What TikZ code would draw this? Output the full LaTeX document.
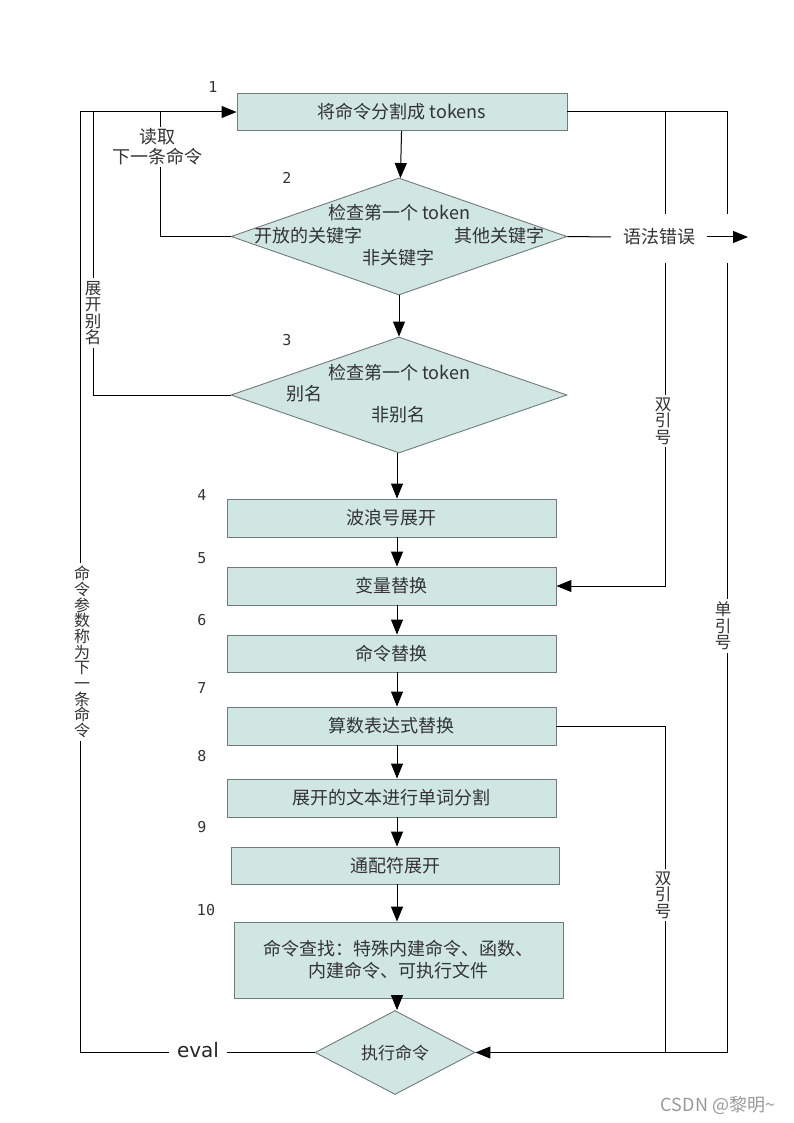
\documentclass[tikz,border=0pt]{standalone}
\usepackage{fontspec}
\setmainfont{Noto Sans CJK SC}
\newfontfamily\numfont{DejaVu Sans Mono}
\newfontfamily\evalfont{DejaVu Sans}
\usetikzlibrary{shapes.geometric,arrows.meta}

\definecolor{boxfill}{HTML}{CFE6E2}
\definecolor{boxline}{HTML}{6F7C79}
\definecolor{txt}{HTML}{333333}

\tikzset{
  stage/.style={draw=boxline, fill=boxfill, line width=0.9pt, minimum width=329pt,
    minimum height=38pt, inner sep=0pt, text=txt, align=center,
    font=\fontsize{18}{22}\selectfont},
  check/.style={diamond, draw=boxline, fill=boxfill, line width=0.9pt, inner sep=0pt},
  intext/.style={text=txt, inner sep=0pt, font=\fontsize{18}{22}\selectfont},
  num/.style={text=black!80, inner sep=0pt, font=\numfont\fontsize{15}{15}\selectfont},
  tag/.style={fill=white, text=txt, align=center, inner sep=2pt,
    font=\fontsize{18}{20}\selectfont},
  vtag/.style={fill=white, text=txt, align=center, inner xsep=1pt, inner ysep=3pt,
    font=\fontsize{16.5}{16.5}\selectfont},
  flow/.style={line width=1pt, black},
  arr/.style={flow, -{Triangle[length=15pt,width=12pt]}},
}

\begin{document}
\begin{tikzpicture}[x=1pt, y=-1pt]
\useasboundingbox (0,0) rectangle (794,1123);

% columns of the return lines
\coordinate (outx)   at (80,0);
\coordinate (aliasx) at (93,0);
\coordinate (readx)  at (160,0);
\coordinate (dqx)    at (665,0);
\coordinate (sqx)    at (727,0);
\coordinate (spine)  at (397,0);

% main chain
\node[stage, minimum width=330pt, minimum height=37pt] (split) at (402,112) {将命令分割成 tokens};
\node[check, minimum width=336pt, minimum height=117pt] (chk1) at (399,236.5) {};
\node[check, minimum width=336pt, minimum height=116pt] (alias) at (399,395) {};
\node[stage] (tilde)  at (391.5,518)   {波浪号展开};
\node[stage] (var)    at (391.5,586)   {变量替换};
\node[stage, minimum height=37pt] (cmdsub) at (391.5,653.5) {命令替换};
\node[stage] (arith)  at (391.5,726)   {算数表达式替换};
\node[stage] (wsplit) at (391.5,798)   {展开的文本进行单词分割};
\node[stage, minimum width=328pt, minimum height=37pt] (glob) at (395,865.5) {通配符展开};
\node[stage, minimum height=76pt] (lookup) at (398.5,960)
  {命令查找：特殊内建命令、函数、\\内建命令、可执行文件};
\node[check, minimum width=160pt, minimum height=49pt, text=txt,
  font=\fontsize{17}{17}\selectfont] (exec) at (395,1052.5) {执行命令};

% texts inside the two checks
\node[intext] (chk1q)  at (399,213) {检查第一个 token};
\node[intext] (chk1a)  at (308,236) {开放的关键字};
\node[intext] (chk1b)  at (499,236) {其他关键字};
\node[intext] (chk1c)  at (398,258) {非关键字};
\node[intext] (aliasq) at (399,373) {检查第一个 token};
\node[intext] (aliasa) at (304,394) {别名};
\node[intext] (aliasb) at (398,415) {非别名};

% step numbers
\foreach \n/\px/\py in {1/213/87, 2/287/178, 3/287/340, 4/202/495, 5/202/558,
                        6/202/620, 7/202/688, 8/202/756, 9/202/827, 10/206/910}
  \node[num] (n\n) at (\px,\py) {\n};

% downward arrows
\draw[arr] (split) -- (chk1);
\draw[arr] (chk1) -- (alias);
\foreach \a/\b in {alias/tilde, tilde/var, var/cmdsub, cmdsub/arith,
                   arith/wsplit, wsplit/glob, glob/lookup, lookup/exec}
  \draw[arr] (\a.south -| spine) -- (\b.north -| spine);

% return lines on the left
\draw[arr] (exec.west) -| (outx |- split.west) -- (split.west);
\draw[flow] (alias.west) -| (aliasx |- split.west);
\draw[flow] (chk1.west) -| (readx |- split.west);

% quote lines on the right
\draw[arr] (split.east) -| (sqx |- exec.east) -- (exec.east);
\draw[arr] (split.east -| dqx) |- (var.east);
\draw[flow] (arith.east) -| (dqx |- exec.east);

% syntax error exit
\node[fill=white, minimum width=100pt, minimum height=49pt, inner sep=0pt] (gap) at (690,238.5) {};
\coordinate (errend) at (748,237);
\node[tag, inner xsep=12pt] (err) at (659,237) {语法错误};
\draw[flow] (chk1.east) -- (err.west);
\draw[arr] (err.east) -- (errend);

% labels on the lines
\node[tag] (readnext) at (157,147) {读取\\下一条命令};
\node[vtag] (expand) at (93,313) {展\\开\\别\\名};
\node[vtag, font=\fontsize{16}{15.7}\selectfont] (evalnext) at (82,652)
  {命\\令\\参\\数\\称\\为\\下\\一\\条\\命\\令};
\node[vtag] (dq1) at (663,421) {双\\引\\号};
\node[vtag] (dq2) at (663,895) {双\\引\\号};
\node[vtag] (sq)  at (723,626) {单\\引\\号};
\node[fill=white, text=black!85, inner xsep=8pt, font=\evalfont\fontsize{20}{20}\selectfont]
  (eval) at (198,1050) {eval};

% watermark
\node[text=black!40, font=\fontsize{18}{18}\selectfont] (mark) at (718,1105) {CSDN @黎明\textasciitilde};

\end{tikzpicture}
\end{document}
